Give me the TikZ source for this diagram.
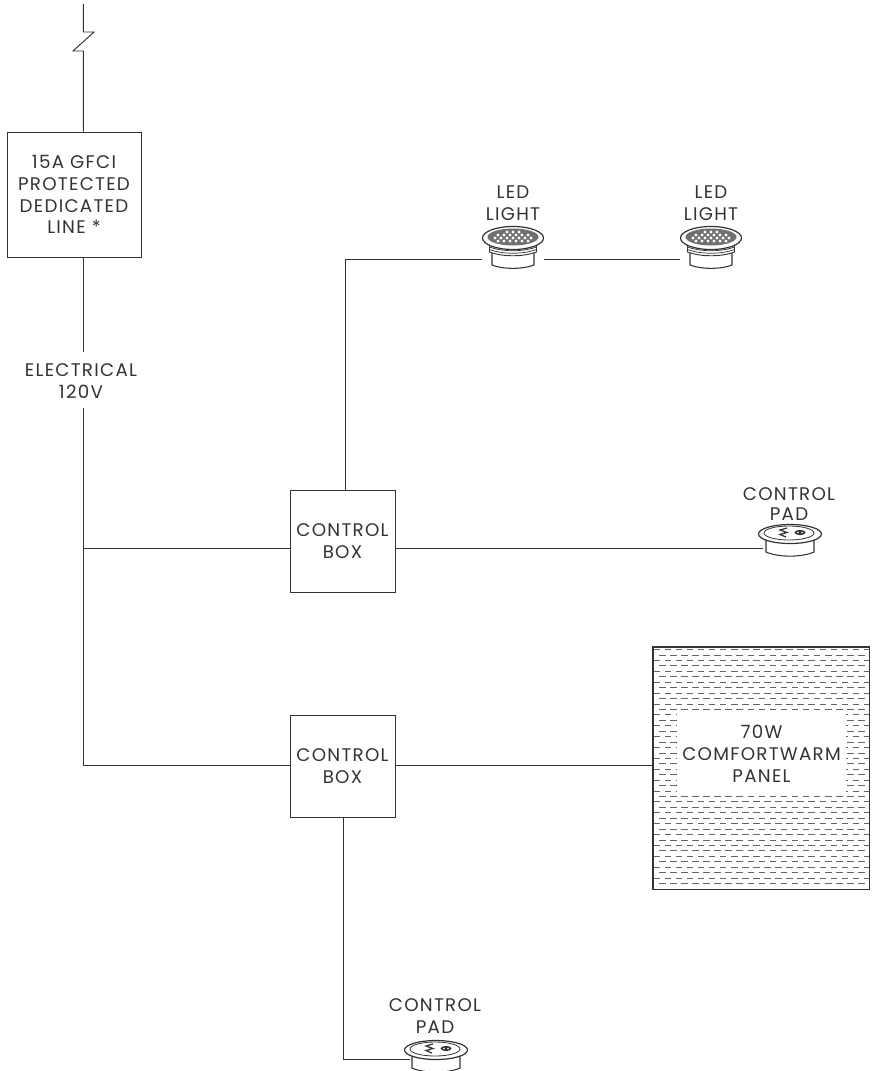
\documentclass[tikz,border=0pt]{standalone}
\usepackage{fontspec}
\setmainfont{Poppins}[LetterSpace=7]
\tikzset{
  wire/.style={draw=ink,line width=0.72pt},
  boxnode/.style={draw=ink,line width=0.72pt,fill=white,align=center,inner sep=0pt},
  lab/.style={align=center,inner sep=0pt,text=ink,font=\fontsize{13.7pt}{16.4pt}\selectfont},
  port/.style={inner sep=0pt,minimum height=2pt},
  ledicon/.pic={
    \draw[ink,line width=0.8pt,fill=white] (-21,-8) -- (-21,6) .. controls (-10,10.5) and (10,10.5) .. (21,6) -- (21,-8);
    \draw[ink,line width=0.7pt,fill=white] (-23.5,-14) -- (-23.5,-7) .. controls (-10,-2) and (10,-2) .. (23.5,-7) -- (23.5,-14);
    \draw[ink,line width=0.55pt] (-23.5,-12) .. controls (-10,-7) and (10,-7) .. (23.5,-12);
    \draw[ink,line width=0.55pt] (-23.5,-9.5) .. controls (-10,-4.5) and (10,-4.5) .. (23.5,-9.5);
    \draw[ink,line width=0.9pt,fill=white] (0,-21) ellipse [x radius=30.5,y radius=11.5];
    \fill[ink!70] (0,-22) ellipse [x radius=25.5,y radius=8.5];
    \foreach \r/\a/\b/\o in {-27/-1/1/0,-24/-3/2/3,-21/-3/3/0,-18/-3/2/3}{
      \foreach \i in {\a,...,\b}{
        \fill[white] ({\i*6+\o},\r) circle [radius=1.6];
      }
    }
  },
  padicon/.pic={
    \draw[ink,line width=0.8pt,fill=white] (-24,-8) -- (-24,4) .. controls (-12,9.5) and (12,9.5) .. (24,4) -- (24,-8);
    \draw[ink,line width=0.9pt,fill=white] (0,-14) ellipse [x radius=31.5,y radius=9.5];
    \draw[ink,line width=0.6pt] (-1,-15) ellipse [x radius=25,y radius=7];
    \draw[ink,line width=0.9pt] (-3,-20) -- (-10,-18) -- (-3,-15.5) -- (-10,-13.5) -- (-4,-11);
    \fill[ink] (10,-15.5) ellipse [x radius=5.5,y radius=2.6];
    \fill[white] (8,-15.5) circle [radius=0.8] (12,-15.5) circle [radius=0.8];
  }
}
\definecolor{ink}{HTML}{333333}
\begin{document}
\begin{tikzpicture}[x=0.75pt,y=-0.75pt]
\useasboundingbox (0,0) rectangle (874,1071);
% panel
\node[boxnode,minimum width=216*0.75pt,minimum height=242*0.75pt] (panel) at (761,768) {};
\foreach \k in {0,...,44}{
  \pgfmathsetmacro{\yy}{649.6+\k*5.44}
  \pgfmathsetmacro{\xs}{isodd(\k)?659:653.5}
  \draw[ink!75,line width=0.7pt,dash pattern=on 4.9pt off 3.4pt] (\xs,\yy) -- (868.5,\yy);
}
\draw[ink,line width=0.8pt] (panel.north west) rectangle (panel.south east);
\node[draw=none,fill=white,lab,minimum width=169*0.75pt,minimum height=79*0.75pt] (plabel) at (761.5,753.5) {70W\\COMFORTWARM\\PANEL};
% boxes
\node[boxnode,lab,minimum width=134*0.75pt,minimum height=125*0.75pt] (gfci) at (74,194.5) {15A GFCI\\PROTECTED\\DEDICATED\\LINE *};
\node[boxnode,lab,minimum width=105*0.75pt,minimum height=102*0.75pt] (cb1) at (342.5,541) {CONTROL\\BOX};
\node[boxnode,lab,minimum width=105*0.75pt,minimum height=102*0.75pt] (cb2) at (342.5,766) {CONTROL\\BOX};
% labels
\node[lab] (elec) at (81,381) {ELECTRICAL\\120V};
\node[lab] (ledlabA) at (513,203) {LED\\LIGHT};
\node[lab] (ledlabB) at (711,203) {LED\\LIGHT};
\node[lab] (padlabA) at (789,504) {CONTROL\\[-2pt]PAD};
\node[lab] (padlabB) at (435,1016) {CONTROL\\PAD};
% device ports
\node[port,minimum width=62*0.75pt] (ledA) at (513,259) {};
\node[port,minimum width=62*0.75pt] (ledB) at (711,259) {};
\node[port,minimum width=54*0.75pt] (padA) at (790,548) {};
\node[port,minimum width=54*0.75pt] (padB) at (436,1064) {};
\pic at (ledA) {ledicon};
\pic at (ledB) {ledicon};
\pic at (padA) {padicon};
\pic at (padB) {padicon};
% free points
\coordinate (top) at (83.4,4);
\coordinate (z1) at (83.4,32);
\coordinate (z2) at (94,32);
\coordinate (z3) at (73,51);
\coordinate (z4) at (83.4,51);
\coordinate (jA) at (83.4,548);
\coordinate (jB) at (83.4,765);
\coordinate (padBin) at (410,1059);
% connectors
\draw[wire] (top) -- (z1) -- (z2) -- (z3) -- (z4) -- (z4 |- gfci.north);
\draw[wire] (z4 |- gfci.south) -- (83.4,352);
\draw[wire] (83.4,408) -- (jB) -- (cb2.west |- jB);
\draw[wire] (jA) -- (cb1.west |- jA);
\draw[wire] (345,490) -- (345,259) -- (ledA.west);
\draw[wire] (ledA.east) -- (ledB.west);
\draw[wire] (cb1.east |- padA) -- (padA.west);
\draw[wire] (cb2.east |- jB) -- (panel.west |- jB);
\draw[wire] (343,817) -- (343,1059) -- (padBin);
\end{tikzpicture}
\end{document}
